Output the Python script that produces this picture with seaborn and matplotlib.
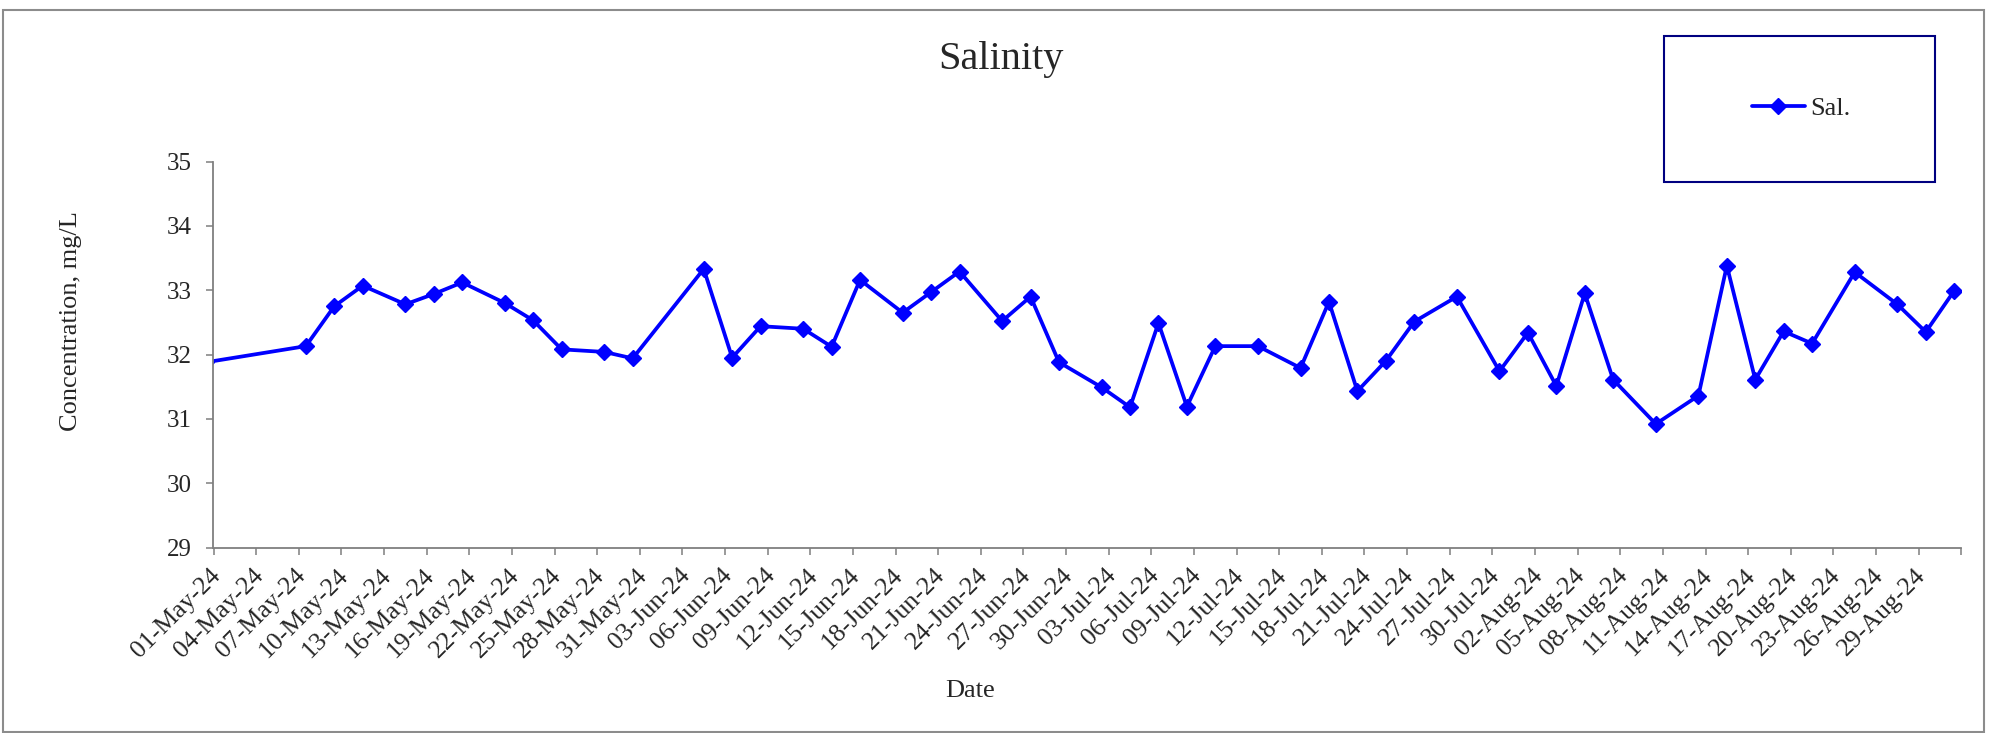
import pandas as pd
import seaborn as sns
import matplotlib.pyplot as plt
import matplotlib.patches as patches
from matplotlib.transforms import ScaledTranslation

# ==============================
# Data
# ==============================
sample_dates = [
    "2024-04-30", "2024-05-07", "2024-05-09", "2024-05-11", "2024-05-14", "2024-05-16",
    "2024-05-18", "2024-05-21", "2024-05-23", "2024-05-25", "2024-05-28", "2024-05-30",
    "2024-06-04", "2024-06-06", "2024-06-08", "2024-06-11", "2024-06-13", "2024-06-15",
    "2024-06-18", "2024-06-20", "2024-06-22", "2024-06-25", "2024-06-27", "2024-06-29",
    "2024-07-02", "2024-07-04", "2024-07-06", "2024-07-08", "2024-07-10", "2024-07-13",
    "2024-07-16", "2024-07-18", "2024-07-20", "2024-07-22", "2024-07-24", "2024-07-27",
    "2024-07-30", "2024-08-01", "2024-08-03", "2024-08-05", "2024-08-07", "2024-08-10",
    "2024-08-13", "2024-08-15", "2024-08-17", "2024-08-19", "2024-08-21", "2024-08-24",
    "2024-08-27", "2024-08-29", "2024-08-31",
]
salinity = [
    31.88, 32.13, 32.75, 33.07, 32.78, 32.94,
    33.12, 32.80, 32.53, 32.08, 32.04, 31.94,
    33.33, 31.95, 32.44, 32.40, 32.12, 33.16,
    32.65, 32.97, 33.29, 32.52, 32.90, 31.88,
    31.49, 31.18, 32.49, 31.19, 32.13, 32.13,
    31.79, 32.82, 31.43, 31.90, 32.51, 32.90,
    31.74, 32.34, 31.51, 32.95, 31.61, 30.92,
    31.36, 33.38, 31.61, 32.36, 32.17, 33.28,
    32.78, 32.35, 32.99,
]
y_ticks = [29, 30, 31, 32, 33, 34, 35]
x_start, x_end = "2024-05-01", "2024-09-01"

df = pd.DataFrame({"date": pd.to_datetime(sample_dates), "sal": salinity})
# Excel date axis "between tick marks": points sit in the middle of the day
df["plot_date"] = df["date"] + pd.Timedelta(hours=12)

tick_dates = pd.date_range(x_start, x_end, freq="3D")
tick_labels = [d.strftime("%d-%b-%y") for d in tick_dates[:-1]] + [""]

# ==============================
# Plot
# ==============================
sns.set_style("white")
plt.rcParams["font.family"] = ["Liberation Serif", "DejaVu Serif"]

W, H = 1990, 733
fig = plt.figure(figsize=(W / 100, H / 100), dpi=100)
ax = fig.add_axes([213.5 / W, 1 - 547.5 / H, (1961.3 - 213.5) / W, (547.5 - 161.5) / H])

sns.lineplot(
    data=df, x="plot_date", y="sal", ax=ax,
    color="#0000FF", linewidth=2.7,
    marker="D", markersize=8, markeredgecolor="#0000FF", markeredgewidth=1,
    label="Sal.", legend=False,
)

ax.set_xlim(pd.Timestamp(x_start), pd.Timestamp(x_end))
ax.set_ylim(29, 35)
ax.set_yticks(y_ticks)
ax.set_xticks(tick_dates)
ax.set_xticklabels(tick_labels, rotation=45, ha="right", va="top", rotation_mode="anchor")
ax.set_xlabel("")
ax.set_ylabel("")

for side in ["top", "right"]:
    ax.spines[side].set_visible(False)
for side in ["left", "bottom"]:
    ax.spines[side].set_color("#7f7f7f")
    ax.spines[side].set_linewidth(1.3)

ax.tick_params(axis="y", direction="out", length=5, width=1.1, color="#7f7f7f",
               labelsize=18, pad=11, left=True)
ax.tick_params(axis="x", direction="out", length=5, width=1.1, color="#7f7f7f",
               labelsize=18.5, pad=7, bottom=True)
shift = ScaledTranslation(-0.04, 0, fig.dpi_scale_trans)
for lab in ax.get_xticklabels():
    lab.set_transform(lab.get_transform() + shift)

# titles and axis labels (positioned like the Excel chart)
fig.text(1001 / W, 1 - 69 / H, "Salinity", ha="center", va="baseline", fontsize=29)
fig.text(970 / W, 1 - 691 / H, "Date", ha="center", va="center", fontsize=19)
fig.text(71 / W, 1 - 321 / H, "Concentration, mg/L", ha="center", va="center",
         rotation=90, fontsize=19)

# legend inside its own navy box
handles, labels = ax.get_legend_handles_labels()
ax.legend(handles, labels, loc="center", bbox_to_anchor=(1801 / W, 1 - 108.5 / H),
          bbox_transform=fig.transFigure, frameon=False, fontsize=19,
          handlelength=2.0, handletextpad=0.2, borderpad=0)
fig.patches.append(patches.Rectangle(
    (1664 / W, 1 - 182 / H), (1935 - 1664) / W, (182 - 35.7) / H,
    transform=fig.transFigure, fill=False, edgecolor="#000080", linewidth=1.5))

# outer chart border
fig.patches.append(patches.Rectangle(
    (3 / W, 1 / H), (1984 - 3) / W, (732 - 10) / H,
    transform=fig.transFigure, fill=False, edgecolor="#8c8c8c", linewidth=1.5))

fig.savefig("out.png", dpi=100)
